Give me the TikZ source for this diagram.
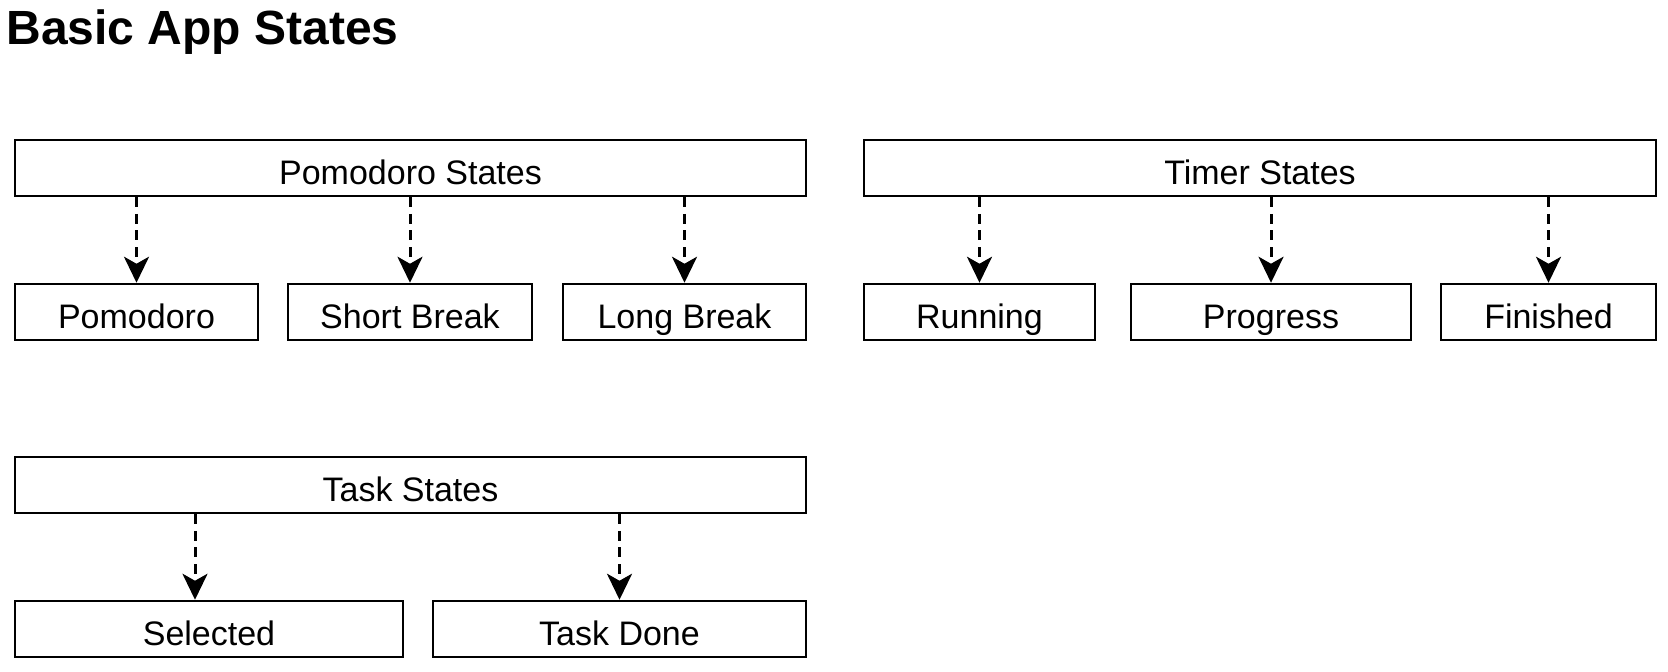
\documentclass[tikz,border=0pt]{standalone}
\usepackage{fontspec}
\setmainfont{Liberation Sans}
\usepackage{tikz}
\usetikzlibrary{arrows.meta}

\begin{document}
\begin{tikzpicture}[x=0.5pt,y=-0.5pt]
		\tikzstyle{statebox}=[rectangle,draw=black,line width=1.25pt,minimum height=28pt,inner sep=0,text height=16pt,text depth=0pt,font=\fontsize{17pt}{20pt}\selectfont]
		\tikzstyle{dep}=[draw=black,line width=1.5pt,dash pattern=on 5pt off 3.3pt,-{Stealth[length=13pt,width=12.5pt,inset=3.5pt]}]
		\fill[white] (0,0) rectangle (1668,671);
		\useasboundingbox (0,0) rectangle (1668,671);

		\node[anchor=base west,inner sep=0,font=\fontsize{24pt}{28pt}\selectfont\bfseries] (title) at (6,44) {Basic App States};

		% pomodoro
		\node[statebox,minimum width=395.5pt] (pomstates) at (410.5,168) {Pomodoro States};
		\node[statebox,minimum width=121.5pt] (pomodoro) at (136.5,312) {Pomodoro};
		\node[statebox,minimum width=122pt] (shortbreak) at (410,312) {Short Break};
		\node[statebox,minimum width=121.5pt] (longbreak) at (684.5,312) {Long Break};
		\foreach \n in {pomodoro,shortbreak,longbreak}
			\draw[dep] (pomstates.south -| \n.north) -- (\n.north);

		% timer
		\node[statebox,minimum width=396pt] (timerstates) at (1260,168) {Timer States};
		\node[statebox,minimum width=115.5pt] (running) at (979.5,312) {Running};
		\node[statebox,minimum width=140pt] (progress) at (1271,312) {Progress};
		\node[statebox,minimum width=107.5pt] (finished) at (1548.5,312) {Finished};
		\foreach \n in {running,progress,finished}
			\draw[dep] (timerstates.south -| \n.north) -- (\n.north);

		% task
		\node[statebox,minimum width=395.5pt] (taskstates) at (410.5,485) {Task States};
		\node[statebox,minimum width=194pt] (selected) at (209,629) {Selected};
		\node[statebox,minimum width=186.5pt] (taskdone) at (619.5,629) {Task Done};
		\draw[dep] ([xshift=-7pt]selected.north |- taskstates.south) -- ([xshift=-7pt]selected.north);
		\draw[dep] (taskstates.south -| taskdone.north) -- (taskdone.north);
	\end{tikzpicture}
\end{document}
